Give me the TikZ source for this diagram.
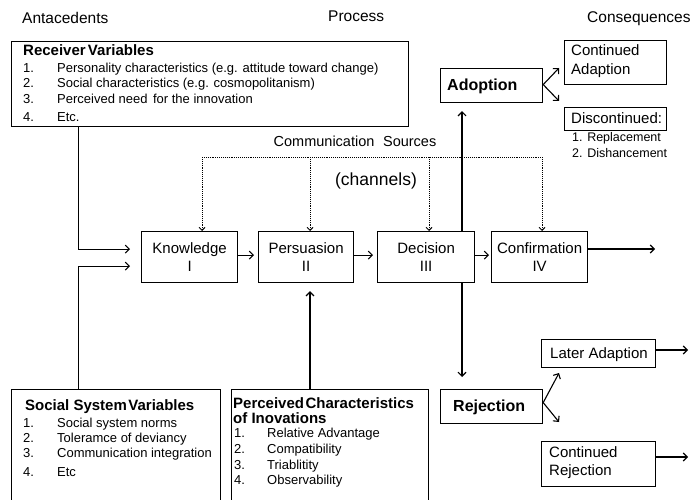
\documentclass[tikz,border=0pt]{standalone}
\usepackage{fontspec}
\setmainfont{Liberation Sans}
\usetikzlibrary{arrows.meta}
\newcommand\myfs[2]{\fontsize{#1}{#2}\selectfont}
\begin{document}
\begin{tikzpicture}[x=1pt,y=-1pt,
  box/.style={draw, line width=1.2pt, inner sep=0, anchor=north west},
  stagebox/.style={draw, line width=1.2pt, inner sep=0, anchor=north west, align=center, font=\myfs{15}{18}},
  lbl/.style={inner sep=0, anchor=mid west, yshift=-2.5pt},
  hdr/.style={inner sep=0, anchor=mid west, yshift=-2.5pt, font=\myfs{15.5}{18}},
  itm/.style={inner sep=0, anchor=mid west, yshift=-2pt, font=\myfs{13}{15}},
  bhd/.style={inner sep=0, anchor=mid west, yshift=-2.5pt, font=\myfs{15}{15}\bfseries},
  arr/.style={line width=1.1pt, -{Straight Barb[length=4pt,width=8pt]}},
  dotline/.style={line width=0.9pt, densely dotted},
  dotarr/.style={line width=0.9pt, densely dotted, -{Straight Barb[length=3pt,width=6pt]}}
]
\useasboundingbox (0,0) rectangle (690,500);
\clip (0,0) rectangle (690,500);

% column headers
\node[hdr] (hA) at (22,18) {Antacedents};
\node[hdr] (hP) at (328,16) {Process};
\node[hdr] (hC) at (587,17) {Consequences};

% Receiver variables
\node[box, minimum width=397pt, minimum height=85pt] (rv) at (11,41) {};
\node[bhd] (rvh) at (23,50) {Receiver\hspace{0.15em}Variables};
\node[itm] (rv1n) at (23,68) {1.};
\node[itm] (rv1) at (57,68) {Personality characteristics (e.g. attitude toward change)};
\node[itm] (rv2n) at (23,83) {2.};
\node[itm] (rv2) at (57,83) {Social characteristics (e.g. cosmopolitanism)};
\node[itm] (rv3n) at (23,99) {3.};
\node[itm] (rv3) at (57,99) {Perceived need\hspace{0.15em} for the innovation};
\node[itm] (rv4n) at (23,117) {4.};
\node[itm] (rv4) at (57,117) {Etc.};

% Social system variables
\node[box, minimum width=209pt, minimum height=140pt] (ss) at (11,389) {};
\node[bhd] (ssh) at (25,405) {Social System\hspace{0.1em}Variables};
\node[itm] (ss1n) at (23,423) {1.};
\node[itm] (ss1) at (57,423) {Social system norms};
\node[itm] (ss2n) at (23,438) {2.};
\node[itm] (ss2) at (57,438) {Toleramce of deviancy};
\node[itm] (ss3n) at (23,453) {3.};
\node[itm] (ss3) at (57,453) {Communication integration};
\node[itm] (ss4n) at (23,472) {4.};
\node[itm] (ss4) at (57,472) {Etc};

% Perceived characteristics
\node[box, minimum width=197pt, minimum height=140pt] (pc) at (231,389) {};
\node[bhd] (pch1) at (233,403) {Perceived\hspace{0.1em}Characteristics};
\node[bhd] (pch2) at (233,418) {of Inovations};
\node[itm] (pc1n) at (234,433) {1.};
\node[itm] (pc1) at (267,433) {Relative Advantage};
\node[itm] (pc2n) at (234,449) {2.};
\node[itm] (pc2) at (267,449) {Compatibility};
\node[itm] (pc3n) at (234,465) {3.};
\node[itm] (pc3) at (267,465) {Triablitity};
\node[itm] (pc4n) at (234,480) {4.};
\node[itm] (pc4) at (267,480) {Observability};

% stages
\node[stagebox, minimum width=96pt, minimum height=51pt] (kn) at (141,231) {Knowledge\\I};
\node[stagebox, minimum width=95pt, minimum height=51pt] (pe) at (258,231) {Persuasion\\II};
\node[stagebox, minimum width=97pt, minimum height=51pt] (de) at (377,231) {Decision\\III};
\node[stagebox, minimum width=96pt, minimum height=51pt] (co) at (491,231) {Confirmation\\IV};

% communication sources
\node[inner sep=0, font=\myfs{14.5}{16}] (cs) at (355,141) {Communication\hspace{0.6em}Sources};
\node[inner sep=0, font=\myfs{17.5}{20}] (ch) at (376,181) {(channels)};

% outcome boxes
\node[box, minimum width=102pt, minimum height=34pt] (ad) at (440,68) {};
\node[lbl, font=\myfs{16}{18}\bfseries] (adl) at (447,85) {Adoption};
\node[box, minimum width=102pt, minimum height=44pt] (ca) at (564,40) {};
\node[lbl, font=\myfs{15}{18}] (ca1) at (571,50) {Continued};
\node[lbl, font=\myfs{15}{18}] (ca2) at (571,69) {Adaption};
\node[box, minimum width=102pt, minimum height=23pt] (dc) at (564,107) {};
\node[lbl, font=\myfs{15}{18}] (dcl) at (571,118) {Discontinued:};
\node[lbl, font=\myfs{12.5}{14}] (dc1) at (572,136) {1. Replacement};
\node[lbl, font=\myfs{12.5}{14}] (dc2) at (572,152) {2. Dishancement};

\node[box, minimum width=102pt, minimum height=34pt] (rj) at (440,389) {};
\node[lbl, font=\myfs{16}{18}\bfseries] (rjl) at (453,406) {Rejection};
\node[box, minimum width=114pt, minimum height=28pt] (la) at (541,339) {};
\node[lbl, font=\myfs{15}{18}] (lal) at (550,353) {Later Adaption};
\node[box, minimum width=114pt, minimum height=45pt] (cr) at (541,441) {};
\node[lbl, font=\myfs{15}{18}] (cr1) at (549,452) {Continued};
\node[lbl, font=\myfs{15}{18}] (cr2) at (549,470) {Rejection};

% coordinates
\coordinate (lx) at (78.5,0);
\coordinate (vx) at (462,0);
\coordinate (px) at (310,0);
\coordinate (c1) at (202,157);
\coordinate (c2) at (310,157);
\coordinate (c3) at (429,157);
\coordinate (c4) at (542,157);
\coordinate (coout) at (655,249);
\coordinate (adup) at (559,68);
\coordinate (addn) at (559,101);
\coordinate (rjup) at (559,373);
\coordinate (rjdn) at (559,422);
\coordinate (laout) at (688,350);
\coordinate (crout) at (688,457);

% antecedent arrows
\draw[arr, shorten >=11pt] (rv.south -| lx) |- ([yshift=8pt]kn.west);
\draw[arr, shorten >=11pt] (ss.north -| lx) |- ([yshift=-9pt]kn.west);
\draw[arr, shorten >=8pt] (pc.north -| px) -- (pe.south -| px);

% stage arrows
\draw[arr, shorten >=4pt] ([yshift=2pt]kn.east) -- ([yshift=2pt]pe.west);
\draw[arr, shorten >=4pt] ([yshift=2pt]pe.east) -- ([yshift=2pt]de.west);
\draw[arr, shorten >=2pt] ([yshift=2pt]de.east) -- ([yshift=2pt]co.west);
\draw[arr] (co.east |- coout) -- (coout);

% communication sources dotted
\draw[dotline] (c1) -- (c4);
\draw[dotarr] (c1) -- (c1 |- kn.north);
\draw[dotarr] (c2) -- (c2 |- pe.north);
\draw[dotarr] (c3) -- (c3 |- de.north);
\draw[dotarr] (c4) -- (c4 |- co.north);

% decision to adoption / rejection
\draw[arr, shorten >=8pt] (de.north -| vx) -- (ad.south -| vx);
\draw[arr, shorten >=12pt] (de.south -| vx) -- (rj.north -| vx);

% consequences
\draw[arr] ([yshift=1pt]ad.east) -- (adup);
\draw[arr] ([yshift=1pt]ad.east) -- (addn);
\draw[arr] ([yshift=4pt]rj.east) -- (rjup);
\draw[arr] ([yshift=4pt]rj.east) -- (rjdn);
\draw[arr] (la.east |- laout) -- (laout);
\draw[arr] (cr.east |- crout) -- (crout);
\end{tikzpicture}
\end{document}
